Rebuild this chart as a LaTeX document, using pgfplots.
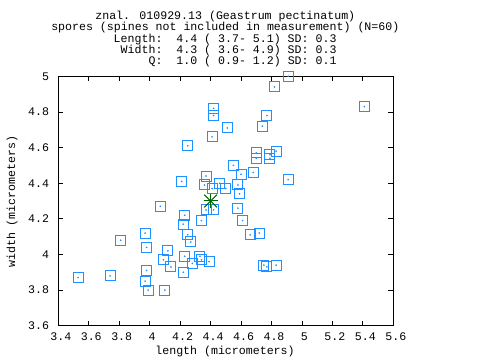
\documentclass[border=0pt]{standalone}
\usepackage{pgfplots}
\pgfplotsset{compat=1.18}
\usepackage{pgfplotstable}
\usepackage{fontspec}
\setmainfont{Liberation Mono}
\definecolor{gblue}{RGB}{30,144,255}
\definecolor{ggreen}{RGB}{0,100,0}
\pgfplotstableread{
x y
3.53 3.87
3.74 3.88
3.81 4.08
3.97 4.12
3.98 4.04
3.98 3.91
3.97 3.85
3.99 3.80
4.07 4.27
4.10 3.80
4.12 4.02
4.09 3.97
4.14 3.93
4.21 4.41
4.23 4.22
4.22 4.17
4.25 4.11
4.27 4.07
4.23 3.99
4.22 3.90
4.25 4.61
4.28 3.95
4.33 3.99
4.34 3.97
4.39 3.96
4.34 4.19
4.37 4.25
4.42 4.25
4.36 4.39
4.37 4.44
4.41 4.37
4.46 4.40
4.50 4.37
4.41 4.66
4.42 4.82
4.42 4.78
4.51 4.71
4.55 4.50
4.58 4.39
4.59 4.34
4.58 4.26
4.61 4.19
4.60 4.45
4.68 4.46
4.66 4.11
4.72 4.12
4.70 4.57
4.70 4.54
4.74 4.72
4.77 4.78
4.75 3.94
4.77 3.93
4.83 3.94
4.79 4.54
4.79 4.56
4.83 4.58
4.82 4.94
4.91 5.00
4.91 4.42
5.41 4.83
}\spores
\begin{document}
\begin{tikzpicture}[font=\fontsize{11.6bp}{12bp}\selectfont]
\useasboundingbox (0,0) rectangle (480bp,360bp);
\begin{axis}[
  at={(58.3bp,34.3bp)}, anchor=south west,
  scale only axis, width=335bp, height=249.4bp,
  xmin=3.4, xmax=5.6, ymin=3.6, ymax=5,
  xtick={3.4,3.6,3.8,4,4.2,4.4,4.6,4.8,5,5.2,5.4,5.6},
  xticklabels={3.4,3.6,3.8,4,4.2,4.4,4.6,4.8,5,5.2,5.4,5.6},
  ytick={3.6,3.8,4,4.2,4.4,4.6,4.8,5},
  yticklabels={3.6,3.8,4,4.2,4.4,4.6,4.8,5},
  tick align=inside, major tick length=5bp,
  every tick/.style={black, line width=0.8bp},
  axis line style={line width=0.8bp},
  /pgf/number format/assume math mode=true,
  ticklabel style={font=\fontsize{11.6bp}{12bp}\selectfont},
  xticklabel style={anchor=base, yshift=-15bp, xshift=2.5bp},
  yticklabel style={anchor=east, inner xsep=0pt, xshift=-9bp},
]
\addplot[only marks, mark=square, mark size=5bp, gblue, mark options={line width=1bp}] table {\spores};
\addplot[only marks, mark=*, mark size=0.6bp, gblue] table {\spores};
\addplot[only marks, mark=+, mark size=7bp, ggreen, mark options={line width=1bp}] coordinates {(4.4,4.3)};
\addplot[only marks, mark=x, mark size=9bp, ggreen, mark options={line width=1bp}] coordinates {(4.4,4.3)};
\end{axis}
\node[anchor=base] at (225.3bp,340.7bp) {znal. 010929.13 (Geastrum pectinatum)};
\node[anchor=base] at (225.3bp,329.3bp) {spores (spines not included in measurement) (N=60)};
\node[anchor=base east, inner xsep=0pt] at (336.7bp,317.7bp) {Length:\ \ 4.4 ( 3.7- 5.1) SD: 0.3};
\node[anchor=base east, inner xsep=0pt] at (336.7bp,306.7bp) {Width:\ \ 4.3 ( 3.6- 4.9) SD: 0.3};
\node[anchor=base east, inner xsep=0pt] at (336.7bp,295.3bp) {Q:\ \ 1.0 ( 0.9- 1.2) SD: 0.1};
\node[anchor=base] at (225bp,5.3bp) {length (micrometers)};
\node[anchor=base, rotate=90] at (15bp,158.3bp) {width (micrometers)};
\end{tikzpicture}
\end{document}
